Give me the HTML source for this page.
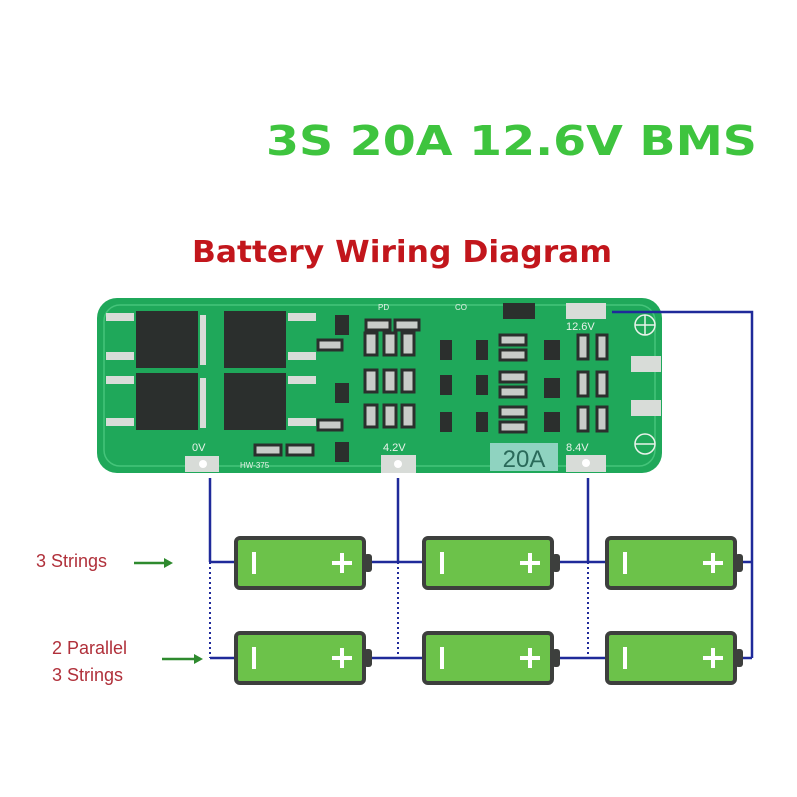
<!DOCTYPE html>
<html><head><meta charset="utf-8"><style>
html,body{margin:0;padding:0;background:#fff;width:797px;height:797px;overflow:hidden}
</style></head><body>
<svg width="797" height="797" viewBox="0 0 797 797" xmlns="http://www.w3.org/2000/svg">
<rect width="797" height="797" fill="#fff"/>
<text x="266" y="155" font-family="DejaVu Sans, sans-serif" font-weight="bold" font-size="41" fill="#3ec43e" textLength="491" lengthAdjust="spacingAndGlyphs">3S 20A 12.6V BMS</text>
<text x="192" y="262" font-family="DejaVu Sans, sans-serif" font-weight="bold" font-size="30" fill="#c2161c" textLength="420" lengthAdjust="spacingAndGlyphs">Battery Wiring Diagram</text>

<!-- board -->
<rect x="97" y="298" width="565" height="175" rx="20" fill="#1fa85a"/>
<rect x="104" y="305" width="551" height="161" rx="16" fill="none" stroke="#45c47a" stroke-width="1.5"/>
<!-- mosfets -->
<g fill="#2b2f2d">
<rect x="136" y="311" width="62" height="57"/><rect x="224" y="311" width="62" height="57"/>
<rect x="136" y="373" width="62" height="57"/><rect x="224" y="373" width="62" height="57"/>
</g>
<g fill="#d8dcd8">
<rect x="106" y="313" width="28" height="8"/><rect x="106" y="352" width="28" height="8"/><rect x="106" y="376" width="28" height="8"/><rect x="106" y="418" width="28" height="8"/>
<rect x="288" y="313" width="28" height="8"/><rect x="288" y="352" width="28" height="8"/><rect x="288" y="376" width="28" height="8"/><rect x="288" y="418" width="28" height="8"/>
<rect x="200" y="315" width="6" height="50"/><rect x="200" y="378" width="6" height="50"/>
<rect x="185" y="456" width="34" height="16"/><rect x="381" y="455" width="35" height="18"/><rect x="566" y="455" width="40" height="17"/>
<rect x="566" y="303" width="40" height="16"/><rect x="631" y="356" width="30" height="16"/><rect x="631" y="400" width="30" height="16"/>
</g>
<g fill="#fff"><circle cx="203" cy="464" r="4"/><circle cx="398" cy="464" r="4"/><circle cx="586" cy="463" r="4"/></g>
<!-- small components -->
<g fill="#2b2f2d">
<rect x="335" y="315" width="14" height="20"/><rect x="335" y="383" width="14" height="20"/><rect x="335" y="442" width="14" height="20"/>
<rect x="440" y="340" width="12" height="20"/><rect x="440" y="375" width="12" height="20"/><rect x="440" y="412" width="12" height="20"/>
<rect x="476" y="340" width="12" height="20"/><rect x="476" y="375" width="12" height="20"/><rect x="476" y="412" width="12" height="20"/>
<rect x="503" y="303" width="32" height="16"/>
<rect x="544" y="340" width="16" height="20"/><rect x="544" y="378" width="16" height="20"/><rect x="544" y="412" width="16" height="20"/>
</g>
<g fill="#c8ccc8" stroke="#2b2f2d" stroke-width="3">
<rect x="365" y="333" width="12" height="22"/><rect x="384" y="333" width="12" height="22"/><rect x="402" y="333" width="12" height="22"/>
<rect x="365" y="370" width="12" height="22"/><rect x="384" y="370" width="12" height="22"/><rect x="402" y="370" width="12" height="22"/>
<rect x="365" y="405" width="12" height="22"/><rect x="384" y="405" width="12" height="22"/><rect x="402" y="405" width="12" height="22"/>
<rect x="500" y="335" width="26" height="10"/><rect x="500" y="350" width="26" height="10"/>
<rect x="500" y="372" width="26" height="10"/><rect x="500" y="387" width="26" height="10"/>
<rect x="500" y="407" width="26" height="10"/><rect x="500" y="422" width="26" height="10"/>
<rect x="578" y="335" width="10" height="24"/><rect x="597" y="335" width="10" height="24"/>
<rect x="578" y="372" width="10" height="24"/><rect x="597" y="372" width="10" height="24"/>
<rect x="578" y="407" width="10" height="24"/><rect x="597" y="407" width="10" height="24"/>
<rect x="395" y="320" width="24" height="10"/><rect x="366" y="320" width="24" height="10"/>
<rect x="255" y="445" width="26" height="10"/><rect x="287" y="445" width="26" height="10"/>
<rect x="318" y="340" width="24" height="10"/><rect x="318" y="420" width="24" height="10"/>
</g>
<rect x="490" y="443" width="68" height="28" fill="#8fd3c0"/>
<text x="524" y="467" font-family="Liberation Sans, sans-serif" font-size="24" fill="#2a6a5a" text-anchor="middle">20A</text>
<g font-family="Liberation Sans, sans-serif" font-size="11" fill="#e9f2ea">
<text x="192" y="451">0V</text><text x="383" y="451">4.2V</text><text x="566" y="451">8.4V</text><text x="566" y="330">12.6V</text>
<text x="240" y="468" font-size="8">HW-375</text><text x="378" y="310" font-size="8">PD</text><text x="455" y="310" font-size="8">CO</text>
</g>
<g fill="none" stroke="#e9f2ea" stroke-width="1.5"><circle cx="645" cy="325" r="10"/><circle cx="645" cy="444" r="10"/></g>
<g stroke="#e9f2ea" stroke-width="1.5"><line x1="635" y1="325" x2="655" y2="325"/><line x1="645" y1="315" x2="645" y2="335"/><line x1="635" y1="444" x2="655" y2="444"/></g>

<!-- wires -->
<g stroke="#1f2a9a" stroke-width="2.5" fill="none">
<polyline points="612,312 752,312 752,658"/>
<line x1="210" y1="478" x2="210" y2="562"/><line x1="398" y1="478" x2="398" y2="562"/><line x1="588" y1="478" x2="588" y2="562"/>
<line x1="210" y1="562" x2="752" y2="562"/>
<line x1="210" y1="658" x2="752" y2="658"/>
</g>
<g stroke="#1f2a9a" stroke-width="2" stroke-dasharray="2,3">
<line x1="210" y1="562" x2="210" y2="658"/><line x1="398" y1="562" x2="398" y2="658"/><line x1="588" y1="562" x2="588" y2="658"/><line x1="752" y1="562" x2="752" y2="658"/>
</g>

<!-- batteries -->
<defs>
<g id="bat">
<rect x="0" y="0" width="128" height="50" rx="4" fill="#6cc24a" stroke="#3d3f3d" stroke-width="4"/>
<rect x="128" y="16" width="8" height="18" rx="3" fill="#3d3f3d"/>
<line x1="18" y1="14" x2="18" y2="36" stroke="#fff" stroke-width="4"/>
<line x1="96" y1="25" x2="116" y2="25" stroke="#fff" stroke-width="4"/>
<line x1="106" y1="15" x2="106" y2="35" stroke="#fff" stroke-width="4"/>
</g>
</defs>
<use href="#bat" x="236" y="538"/><use href="#bat" x="424" y="538"/><use href="#bat" x="607" y="538"/>
<use href="#bat" x="236" y="633"/><use href="#bat" x="424" y="633"/><use href="#bat" x="607" y="633"/>

<g font-family="Liberation Sans, sans-serif" font-size="18" fill="#b0303a">
<text x="36" y="567">3 Strings</text>
<text x="52" y="654">2 Parallel</text>
<text x="52" y="681">3 Strings</text>
</g>
<g stroke="#2e8a2e" stroke-width="2.5" fill="#2e8a2e">
<line x1="134" y1="563" x2="166" y2="563"/><polygon points="173,563 164,558 164,568" stroke="none"/>
<line x1="162" y1="659" x2="196" y2="659"/><polygon points="203,659 194,654 194,664" stroke="none"/>
</g>
</svg>
</body></html>
